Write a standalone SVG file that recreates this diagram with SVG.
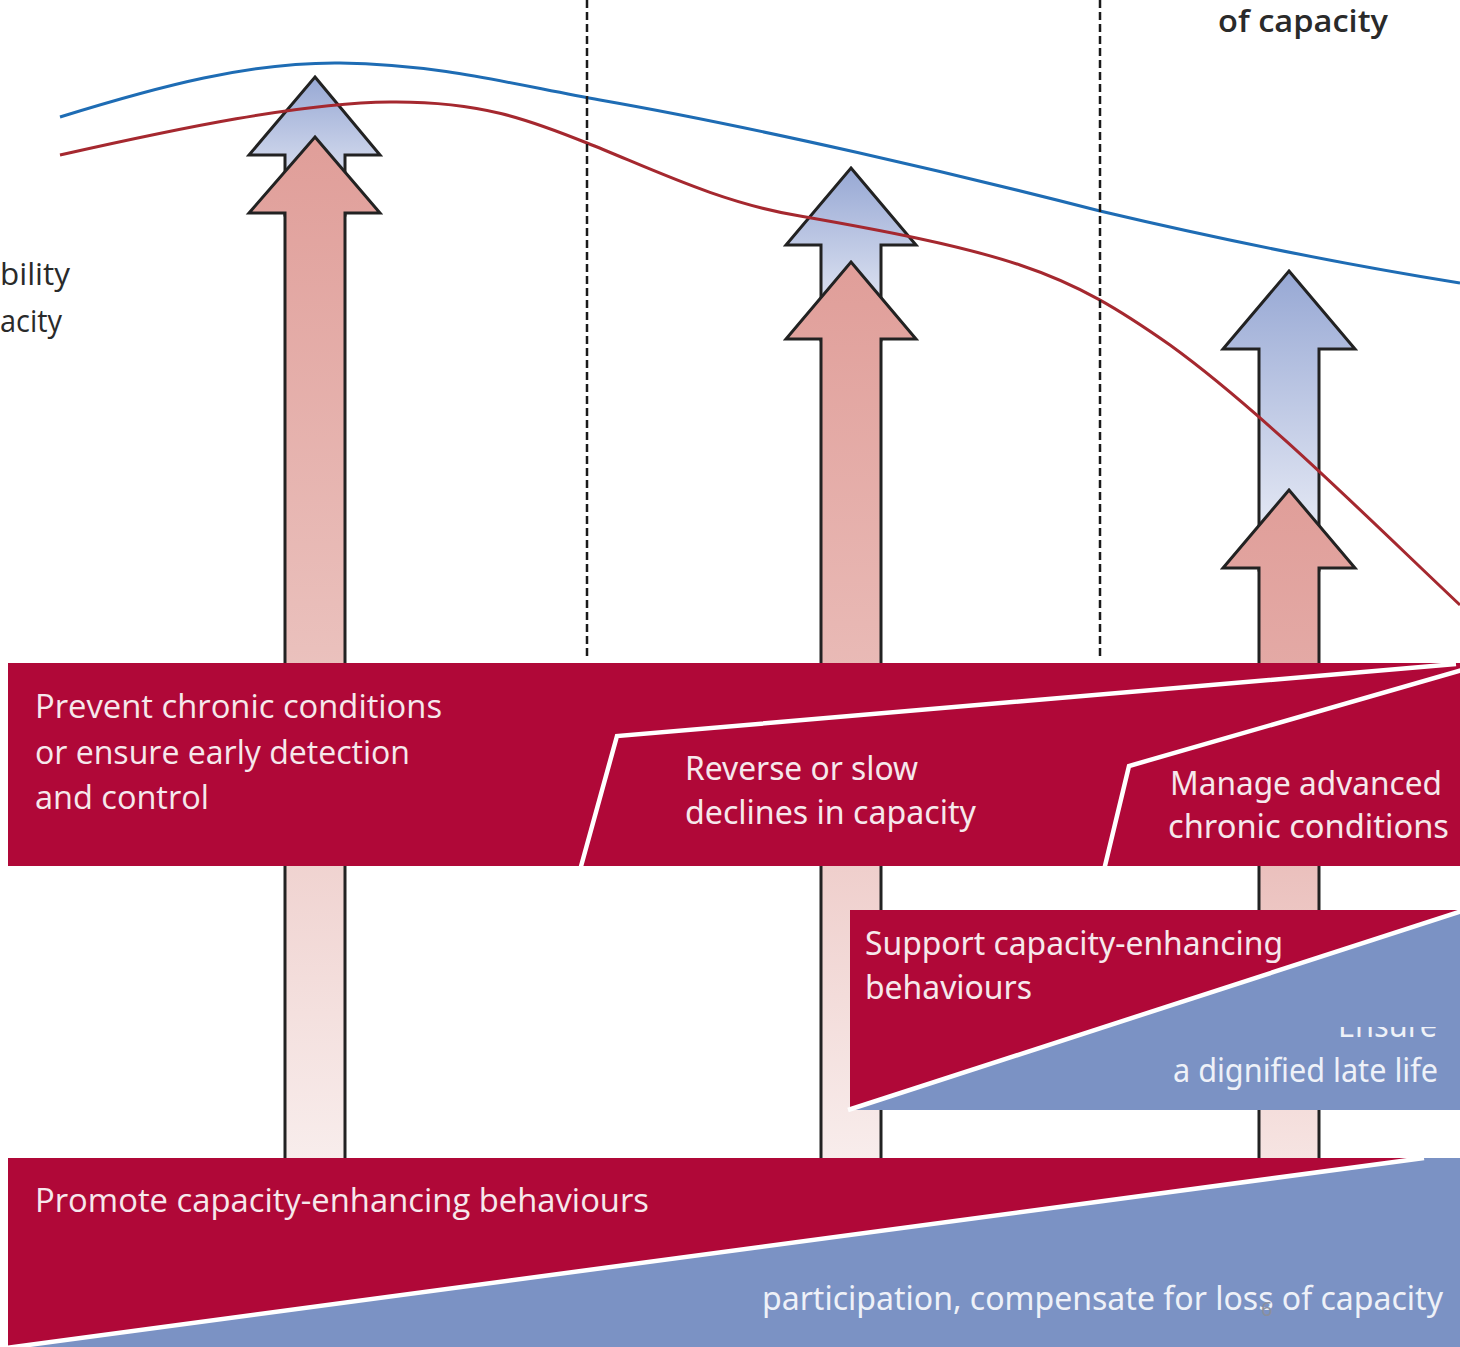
<svg xmlns="http://www.w3.org/2000/svg" width="1460" height="1347" viewBox="0 0 1460 1347">
  <defs>
    <linearGradient id="gradBlue" x1="0" y1="0" x2="0" y2="1">
      <stop offset="0" stop-color="#97A8D4"/>
      <stop offset="1" stop-color="#F0F2F9"/>
    </linearGradient>
    <linearGradient id="gradRed1" gradientUnits="userSpaceOnUse" x1="0" y1="137" x2="0" y2="1160">
      <stop offset="0" stop-color="#E09E99"/>
      <stop offset="0.5" stop-color="#EAC0BC"/>
      <stop offset="1" stop-color="#F8EDEC"/>
    </linearGradient>
    <linearGradient id="gradRed2" gradientUnits="userSpaceOnUse" x1="0" y1="262" x2="0" y2="1160">
      <stop offset="0" stop-color="#E09E99"/>
      <stop offset="0.45" stop-color="#E9BAB6"/>
      <stop offset="1" stop-color="#F8EDEC"/>
    </linearGradient>
    <linearGradient id="gradRed3" gradientUnits="userSpaceOnUse" x1="0" y1="490" x2="0" y2="1160">
      <stop offset="0" stop-color="#E09E99"/>
      <stop offset="0.3" stop-color="#E4ABA7"/>
      <stop offset="1" stop-color="#F6E4E2"/>
    </linearGradient>
    <clipPath id="ensureClip">
      <rect x="1300" y="1027" width="160" height="40"/>
    </clipPath>
  </defs>
  <style>
    .arrow { stroke: #222; stroke-width: 3; stroke-linejoin: miter; }
    .curve { fill: none; stroke-width: 3; }
    .divider { stroke: #1a1a1a; stroke-width: 2.5; stroke-dasharray: 8 4; }
    .band { fill: #B00838; }
    .fieldBlue { fill: #7B92C4; }
    .gap { fill: none; stroke: #fff; stroke-width: 4.5; stroke-linejoin: miter; }
    .lbl { font-family: "Open Sans", "Noto Sans", "Liberation Sans", sans-serif; fill: #F6E8EC; font-size: 33px; }
    .lblC { font-family: "Noto Sans", "Liberation Sans", sans-serif; fill: #F6E8EC; font-size: 33px; }
    .lblB { font-family: "Noto Sans", "Liberation Sans", sans-serif; fill: #EEF1F8; font-size: 33px; }
    .axis { font-family: "Open Sans", "Noto Sans", "Liberation Sans", sans-serif; fill: #2a2a2a; font-size: 31px; }
  </style>

  <!-- intervention arrows (blue = functional ability, red = intrinsic capacity) -->
  <g id="arrow-1">
    <polygon class="arrow" fill="url(#gradBlue)" points="315,77 380,155 345,155 345,215 285,215 285,155 249,155"/>
    <polygon class="arrow" fill="url(#gradRed1)" points="315,137 380,213 345,213 345,1160 285,1160 285,213 249,213"/>
  </g>
  <g id="arrow-2">
    <polygon class="arrow" fill="url(#gradBlue)" points="851,168 916,245 881,245 881,340 821,340 821,245 786,245"/>
    <polygon class="arrow" fill="url(#gradRed2)" points="851,262 916,339 881,339 881,1160 821,1160 821,339 786,339"/>
  </g>
  <g id="arrow-3">
    <polygon class="arrow" fill="url(#gradBlue)" points="1289,271 1355,349 1319,349 1319,570 1259,570 1259,349 1223,349"/>
    <polygon class="arrow" fill="url(#gradRed3)" points="1289,490 1355,568 1319,568 1319,1160 1259,1160 1259,568 1223,568"/>
  </g>

  <!-- trajectory curves and period dividers -->
  <g id="connectors">
    <path class="curve" stroke="#1E6CB4" d="M60,117 C160,86 250,62 340,63 C440,64 520,86 600,100 C760,128 960,175 1100,211 C1240,244 1360,267 1460,283"/>
    <path class="curve" stroke="#A5282F" d="M60,155 C180,128 300,103 390,102 C480,101 530,120 587,143 C650,168 720,203 800,216 C880,230 960,245 1020,265 C1080,285 1120,310 1170,345 C1260,410 1370,520 1460,605"/>
    <line class="divider" x1="587" y1="0" x2="587" y2="660"/>
    <line class="divider" x1="1100" y1="0" x2="1100" y2="660"/>
  </g>

  <!-- axis labels -->
  <g id="axis-labels">
    <text class="axis" x="1218" y="32" font-weight="600" textLength="170" lengthAdjust="spacingAndGlyphs">of capacity</text>
    <text class="axis" x="0" y="285" textLength="70" lengthAdjust="spacingAndGlyphs">bility</text>
    <text class="axis" x="0" y="332" textLength="62" lengthAdjust="spacingAndGlyphs">acity</text>
  </g>

  <!-- clinical care band -->
  <g id="band-clinical">
    <rect class="band" x="8" y="663" width="1452" height="203"/>
    <polyline class="gap" points="580,870 617,736 1456,664"/>
    <polyline class="gap" points="1104,870 1129,766 1462,670"/>
    <text class="lbl" x="35" y="718" textLength="407" lengthAdjust="spacingAndGlyphs">Prevent chronic conditions</text>
    <text class="lbl" x="35" y="764" textLength="375" lengthAdjust="spacingAndGlyphs">or ensure early detection</text>
    <text class="lbl" x="35" y="809" textLength="174" lengthAdjust="spacingAndGlyphs">and control</text>
    <text class="lblC" x="685" y="780" textLength="233" lengthAdjust="spacingAndGlyphs">Reverse or slow</text>
    <text class="lblC" x="685" y="824" textLength="291" lengthAdjust="spacingAndGlyphs">declines in capacity</text>
    <text class="lblC" x="1170" y="795" textLength="272" lengthAdjust="spacingAndGlyphs">Manage advanced</text>
    <text class="lblC" x="1168" y="838" textLength="281" lengthAdjust="spacingAndGlyphs">chronic conditions</text>
  </g>

  <!-- long-term care band -->
  <g id="band-longterm">
    <rect class="fieldBlue" x="850" y="910" width="610" height="200"/>
    <polygon class="band" points="850,910 1460,910 850,1110"/>
    <line class="gap" x1="848" y1="1110" x2="1462" y2="911"/>
    <text class="lblC" x="865" y="955" textLength="418" lengthAdjust="spacingAndGlyphs">Support capacity-enhancing</text>
    <text class="lblC" x="865" y="999" textLength="167" lengthAdjust="spacingAndGlyphs">behaviours</text>
    <text class="lblB" x="1338" y="1037" textLength="99" lengthAdjust="spacingAndGlyphs" clip-path="url(#ensureClip)">Ensure</text>
    <text class="lblB" x="1173" y="1082" textLength="265" lengthAdjust="spacingAndGlyphs">a dignified late life</text>
  </g>

  <!-- environment band -->
  <g id="band-environment">
    <rect class="fieldBlue" x="8" y="1158" width="1452" height="189"/>
    <polygon class="band" points="8,1158 1422,1158 8,1347"/>
    <line class="gap" x1="6" y1="1348" x2="1424" y2="1158"/>
    <text class="lbl" x="35" y="1212" textLength="614" lengthAdjust="spacingAndGlyphs">Promote capacity-enhancing behaviours</text>
    <text class="lblB" x="762" y="1310" textLength="681" lengthAdjust="spacingAndGlyphs">participation, compensate for loss of capacity</text>
    <text x="1261" y="1316" font-family="Noto Sans, sans-serif" font-size="20" fill="#8A8F9C">6</text>
  </g>
</svg>
